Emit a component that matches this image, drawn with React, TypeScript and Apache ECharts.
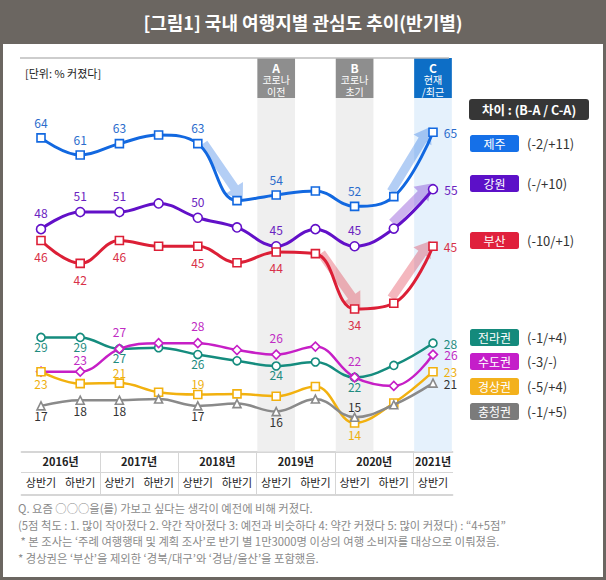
import React, { useEffect, useRef } from 'react';
import * as echarts from 'echarts';

// ---------------- data ----------------
const periods = [
  '2016년 상반기', '2016년 하반기', '2017년 상반기', '2017년 하반기', '2018년 상반기', '2018년 하반기',
  '2019년 상반기', '2019년 하반기', '2020년 상반기', '2020년 하반기', '2021년 상반기',
];
const yearLabels = ['2016년', '2017년', '2018년', '2019년', '2020년', '2021년'];
const yearCenters = [1, 3, 5, 7, 9, 10.5];
const yearDividers = [2, 4, 6, 8, 10];

const jeju = [64, 61, 63, 64.5, 63, 53, 54, 54.7, 52, 53.7, 65];
const gangwon = [48, 51, 51, 52.5, 50, 48.3, 45, 48, 45, 48.1, 55];
const busan = [46, 42, 46, 45, 45, 42.1, 44, 43.7, 34, 35, 45];
const jeolla = [29, 29, 27, 27.2, 26, 24.9, 24, 24.7, 22, 24.1, 28];
const sudo = [23, 23, 27, 28, 28, 26.8, 26, 27.4, 22, 20.5, 26];
const gyeongsang = [23, 20.9, 21, 19.4, 19, 19.1, 18.7, 20.4, 14, 17.5, 23];
const chungcheong = [17, 18, 18, 18.2, 17, 17.4, 16, 18.2, 15, 17.2, 21];

const regionNames = ['제주', '강원', '부산', '전라권', '수도권', '경상권', '충청권'];
const diffTexts = ['(-2/+11)', '(-/+10)', '(-10/+1)', '(-1/+4)', '(-3/-)', '(-5/+4)', '(-1/+5)'];

const highlightIdx = [6, 8, 10];
const highlightLetters = ['A', 'B', 'C'];
const highlightLine1 = ['코로나', '코로나', '현재'];
const highlightLine2 = ['이전', '초기', '/최근'];

const titleText = '[그림1] 국내 여행지별 관심도 추이(반기별)';
const unitText = '[단위: % 커졌다]';
const diffHeader = '차이 : (B-A / C-A)';
const notes = [
  'Q. 요즘 ○○○을(를) 가보고 싶다는 생각이 예전에 비해 커졌다.',
  '(5점 척도 : 1. 많이 작아졌다 2. 약간 작아졌다 3: 예전과 비슷하다 4: 약간 커졌다 5: 많이 커졌다) : “4+5점”',
  ' * 본 조사는 ‘주례 여행행태 및 계획 조사’로 반기 별 1만3000명 이상의 여행 소비자를 대상으로 이뤄졌음.',
  '* 경상권은 ‘부산’을 제외한 ‘경북/대구’와 ‘경남/울산’을 포함했음.',
];

// ---------------- styles ----------------
const FONT = "'Noto Sans CJK KR', 'Noto Sans', sans-serif";
const Y_MIN = 9;
const Y_MAX = 71;

const colors = ['#1268e0', '#6210c8', '#dc1f36', '#158c7e', '#c61fc6', '#f2b10f', '#8a8a8a'];
const tagColors = ['#1570e8', '#5c10c8', '#e0203c', '#148a7c', '#c41ec9', '#f3b11c', '#7b7b7b'];
const labelColors = ['#2a6ccc', '#6a22c0', '#d83048', '#1f8c80', '#c02cc4', '#eeb010', '#333333'];
const symbols = ['rect', 'circle', 'rect', 'circle', 'diamond', 'rect', 'triangle'];
const symbolSizes = [8, 9, 8, 8, 9, 8, 8];
const lineWidths = [3, 3, 3, 2.5, 2.5, 2.5, 2.5];
const seriesValues = [jeju, gangwon, busan, jeolla, sudo, gyeongsang, chungcheong];

// label placement per point: t = top, b = bottom, r = right, '' = none
const labelPos = [
  ['t', 't', 't', '', 't', '', 't', '', 't', '', 'r'],
  ['t', 't', 't', '', 't', '', 't', '', 't', '', 'r'],
  ['b', 'b', 'b', '', 'b', '', 'b', '', 'b', '', 'r'],
  ['b', 'b', 'b', '', 'b', '', 'b', '', 'b', '', 'r'],
  ['', 't', 't', '', 't', '', 't', '', 't', '', 'r'],
  ['b', '', 't', '', 't', '', '', '', 'b', '', 'r'],
  ['b', 'b', 'b', '', 'b', '', 'b', '', 't', '', 'r'],
];
const labelDist = [5, 5, 5, -2, 6, -2, -1];

const tagTops = [135, 175, 232, 329, 353, 378, 403];

// arrows: [series index, from index, to index]
const arrowDefs = [
  [0, 4, 5],
  [0, 9, 10],
  [1, 9, 10],
  [2, 7, 8],
  [2, 9, 10],
];

export default function App() {
  const ref = useRef<HTMLDivElement>(null);

  useEffect(() => {
    if (!ref.current) return;
    const chart = echarts.init(ref.current, undefined, { renderer: 'svg' });

    const lineSeries = seriesValues.map((vals, s) => ({
      type: 'line',
      name: regionNames[s],
      xAxisIndex: 0,
      yAxisIndex: 0,
      smooth: 0.4,
      z: 5 + s,
      symbol: symbols[s],
      symbolSize: symbolSizes[s],
      showAllSymbol: true,
      lineStyle: { color: colors[s], width: lineWidths[s] },
      itemStyle: { color: '#ffffff', borderColor: colors[s], borderWidth: 1.6 },
      emphasis: { disabled: true },
      label: {
        show: false,
        color: labelColors[s],
        fontSize: 12,
        fontFamily: FONT,
        distance: labelDist[s],
        formatter: (p: any) => String(Math.round(p.value)),
      },
      data: vals.map((v, i) => {
        const lp = labelPos[s][i];
        if (!lp) return { value: v };
        const position = lp === 't' ? 'top' : lp === 'b' ? 'bottom' : 'right';
        let distance = lp === 'r' ? 6 : labelDist[s];
        if (s === 4 && i === 1) distance = 1;
        if (s === 5 && lp === 't') distance = 0;
        if (s === 5 && lp === 'b') distance = 1;
        if (s === 6 && lp === 't') distance = 0;
        return { value: v, label: { show: true, position, distance } };
      }),
    }));

    const bandSeries = {
      type: 'custom',
      xAxisIndex: 0,
      yAxisIndex: 0,
      z: 1,
      clip: false,
      silent: true,
      data: highlightIdx.map((i) => [i, Y_MAX]),
      renderItem: (params: any, api: any) => {
        const idx = api.value(0);
        const k = params.dataIndex;
        const top = api.coord([idx, Y_MAX]);
        const bottom = api.coord([idx, Y_MIN]);
        const w = api.size([1, 0])[0] - 1.5;
        const x = top[0] - w / 2;
        const hdrH = 40;
        const isC = k === 2;
        return {
          type: 'group',
          children: [
            {
              type: 'rect',
              shape: { x, y: top[1], width: w, height: bottom[1] - top[1] },
              style: { fill: isC ? '#e5f1fc' : '#efefef' },
            },
            {
              type: 'rect',
              shape: { x, y: top[1] - hdrH, width: w, height: hdrH },
              style: { fill: isC ? '#0d6ec6' : '#8e8e8e' },
            },
            {
              type: 'text',
              x: top[0],
              y: top[1] - hdrH + 9,
              style: {
                text: highlightLetters[k],
                fill: '#fff',
                font: `bold 12px ${FONT}`,
                align: 'center',
                verticalAlign: 'middle',
              },
            },
            {
              type: 'text',
              x: top[0],
              y: top[1] - hdrH + 21,
              style: {
                text: highlightLine1[k],
                fill: '#fff',
                font: `10px ${FONT}`,
                align: 'center',
                verticalAlign: 'middle',
              },
            },
            {
              type: 'text',
              x: top[0],
              y: top[1] - hdrH + 33,
              style: {
                text: highlightLine2[k],
                fill: '#fff',
                font: `10px ${FONT}`,
                align: 'center',
                verticalAlign: 'middle',
              },
            },
          ],
        };
      },
    };

    const arrowSeries = {
      type: 'custom',
      xAxisIndex: 0,
      yAxisIndex: 0,
      z: 3,
      clip: false,
      silent: true,
      data: arrowDefs.map(([s, a, b]) => [a, seriesValues[s][a], b, seriesValues[s][b], s]),
      renderItem: (params: any, api: any) => {
        const p0 = api.coord([api.value(0), api.value(1)]);
        const p1 = api.coord([api.value(2), api.value(3)]);
        const s = api.value(4);
        const dx = p1[0] - p0[0];
        const dy = p1[1] - p0[1];
        const L = Math.hypot(dx, dy);
        const ux = dx / L;
        const uy = dy / L;
        const nx = uy;
        const ny = -ux;
        const off = 5;
        const sx = p0[0] + ux * 3 + nx * off;
        const sy = p0[1] + uy * 3 + ny * off;
        const tx = p1[0] + ux * 3 + nx * off;
        const ty = p1[1] + uy * 3 + ny * off;
        const headLen = 15;
        const bx = tx - ux * headLen;
        const by = ty - uy * headLen;
        const sh = 4.5;
        const hh = 10.5;
        const pts = [
          [sx + nx * sh, sy + ny * sh],
          [bx + nx * sh, by + ny * sh],
          [bx + nx * hh, by + ny * hh],
          [tx, ty],
          [bx - nx * hh, by - ny * hh],
          [bx - nx * sh, by - ny * sh],
          [sx - nx * sh, sy - ny * sh],
        ];
        return {
          type: 'polygon',
          shape: { points: pts },
          style: { fill: colors[s], opacity: 0.32 },
        };
      },
    };

    const graphics: any[] = [
      { type: 'rect', shape: { x: 0, y: 0, width: 606, height: 44 }, style: { fill: '#6b6661' }, z: 10 },
      {
        type: 'rect',
        shape: { x: 1.5, y: 1.5, width: 603, height: 577 },
        style: { fill: 'none', stroke: '#6b6661', lineWidth: 3 },
        z: 10,
      },
      {
        type: 'text',
        x: 303,
        y: 22,
        style: {
          text: titleText,
          fill: '#ffffff',
          font: `bold 18px ${FONT}`,
          align: 'center',
          verticalAlign: 'middle',
        },
        z: 11,
      },
      {
        type: 'line',
        shape: { x1: 20, y1: 58, x2: 449, y2: 58 },
        style: { stroke: '#bdbdbd', lineWidth: 1.5 },
        z: 10,
      },
      {
        type: 'text',
        x: 25,
        y: 73,
        style: { text: unitText, fill: '#222', font: `11px ${FONT}`, verticalAlign: 'middle' },
        z: 10,
      },
      {
        type: 'rect',
        shape: { x: 469, y: 99, width: 120, height: 21, r: 3 },
        style: { fill: '#363636' },
        z: 10,
      },
      {
        type: 'text',
        x: 529,
        y: 109.5,
        style: {
          text: diffHeader,
          fill: '#fff',
          font: `bold 12.5px ${FONT}`,
          align: 'center',
          verticalAlign: 'middle',
        },
        z: 11,
      },
    ];

    regionNames.forEach((name, i) => {
      const top = tagTops[i];
      graphics.push({
        type: 'rect',
        shape: { x: 470, y: top, width: 49, height: 17, r: 2.5 },
        style: { fill: tagColors[i] },
        z: 10,
      });
      graphics.push({
        type: 'text',
        x: 494.5,
        y: top + 8.5,
        style: {
          text: name,
          fill: '#fff',
          font: `12px ${FONT}`,
          align: 'center',
          verticalAlign: 'middle',
        },
        z: 11,
      });
      graphics.push({
        type: 'text',
        x: 527,
        y: top + 8.5,
        style: {
          text: diffTexts[i],
          fill: '#333',
          font: `13px ${FONT}`,
          verticalAlign: 'middle',
        },
        z: 11,
      });
    });

    const noteY = [508, 524.5, 541, 557.5];
    notes.forEach((t, i) => {
      graphics.push({
        type: 'text',
        x: 18,
        y: noteY[i],
        style: { text: t, fill: '#8a8a8a', font: `11.3px ${FONT}`, verticalAlign: 'middle' },
        z: 10,
      });
    });

    const option: any = {
      animation: false,
      backgroundColor: '#ffffff',
      textStyle: { fontFamily: FONT },
      grid: {
        left: 21.4,
        right: 153.4,
        top: 98,
        bottom: 128.5,
        containLabel: false,
        outerBoundsMode: 'none',
      },
      xAxis: [
        {
          type: 'category',
          data: periods,
          boundaryGap: true,
          position: 'bottom',
          axisLine: { show: true, lineStyle: { color: '#c9c9c9', width: 1.5 } },
          axisTick: { show: false },
          splitLine: { show: false },
          axisLabel: {
            margin: 25,
            interval: 0,
            color: '#222',
            fontSize: 11,
            fontFamily: FONT,
            formatter: (v: string) => v.split(' ')[1],
          },
        },
        {
          type: 'value',
          min: 0,
          max: 11,
          position: 'bottom',
          axisLine: { show: false },
          splitLine: { show: false },
          axisTick: {
            show: true,
            customValues: yearDividers,
            length: 43,
            lineStyle: { color: '#d6d6d6', width: 1 },
          },
          axisLabel: {
            show: true,
            customValues: yearCenters,
            margin: 4,
            color: '#222',
            fontSize: 11,
            fontWeight: 'bold',
            fontFamily: FONT,
            formatter: (v: number) => yearLabels[yearCenters.indexOf(v)] ?? '',
          },
        },
        {
          type: 'value',
          min: 0,
          max: 11,
          position: 'bottom',
          offset: 21,
          axisLine: { show: true, lineStyle: { color: '#d6d6d6', width: 1 } },
          axisTick: { show: false },
          axisLabel: { show: false },
          splitLine: { show: false },
        },
        {
          type: 'value',
          min: 0,
          max: 11,
          position: 'bottom',
          offset: 43,
          axisLine: { show: true, lineStyle: { color: '#c9c9c9', width: 1.5 } },
          axisTick: { show: false },
          axisLabel: { show: false },
          splitLine: { show: false },
        },
      ],
      yAxis: { type: 'value', min: Y_MIN, max: Y_MAX, show: false, splitLine: { show: false } },
      graphic: graphics,
      series: [bandSeries, arrowSeries, ...lineSeries],
    };

    chart.setOption(option);
    return () => chart.dispose();
  }, []);

  return (
    <div
      ref={ref}
      style={{ position: 'absolute', left: 0, top: 0, width: 606, height: 580, background: '#fff' }}
    />
  );
}
